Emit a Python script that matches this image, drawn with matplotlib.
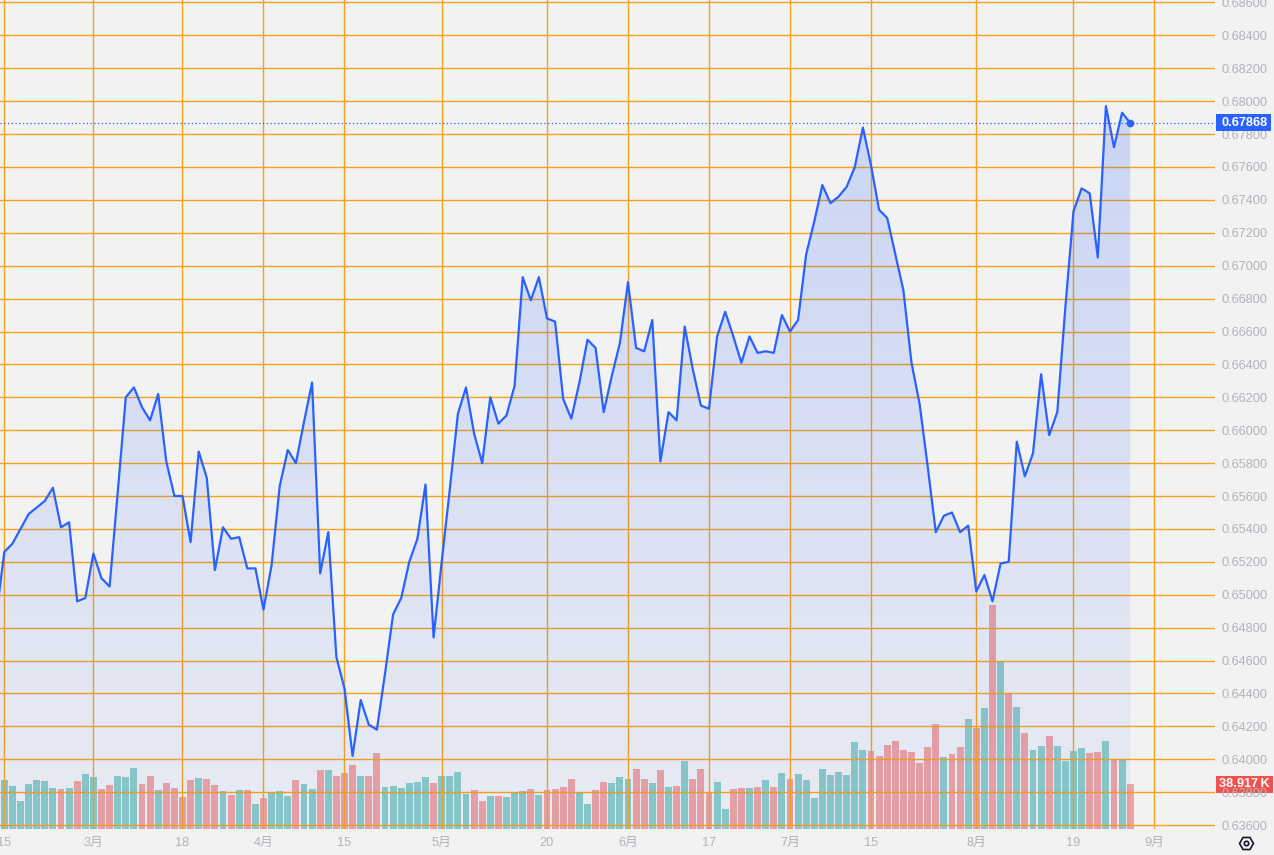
import numpy as np
import pandas as pd
import matplotlib
matplotlib.use('Agg')
import matplotlib.pyplot as plt
import matplotlib.transforms as mtransforms
from matplotlib.patches import Polygon, Rectangle
from matplotlib.lines import Line2D
from matplotlib.colors import to_rgb

plt.rcParams['font.family'] = ['Liberation Sans', 'Noto Sans CJK JP', 'DejaVu Sans']

#######################################
# Data (daily, weekdays 2024-02-14 .. 2024-08-28)
#######################################
days = pd.bdate_range('2024-02-14', '2024-08-28')

close = [
    0.6487,
    0.6526, 0.6531, 0.6540, 0.6549, 0.6553, 0.6557, 0.6565, 0.6541, 0.6544, 0.6496,
    0.6498, 0.6525, 0.6510, 0.6505, 0.6562, 0.6620, 0.6626, 0.6614, 0.6606, 0.6622,
    0.6581, 0.6560, 0.6560, 0.6532, 0.6587, 0.6571, 0.6515, 0.6541, 0.6534, 0.6535,
    0.6516, 0.6516, 0.6491, 0.6518, 0.6566, 0.6588, 0.6580, 0.6605, 0.6629, 0.6513,
    0.6538, 0.6462, 0.6443, 0.6402, 0.6436, 0.6421, 0.6418, 0.6452, 0.6488, 0.6498,
    0.6520, 0.6534, 0.6567, 0.6474, 0.6520, 0.6564, 0.6610, 0.6626, 0.6598, 0.6580,
    0.6620, 0.6604, 0.6609, 0.6627, 0.6693, 0.6679, 0.6693, 0.6668, 0.6666, 0.6619,
    0.6607, 0.6629, 0.6655, 0.6650, 0.6611, 0.6633, 0.6653, 0.6690, 0.6650, 0.6648,
    0.6667, 0.6581, 0.6611, 0.6606, 0.6663, 0.6637, 0.6615, 0.6613, 0.6657, 0.6672,
    0.6657, 0.6641, 0.6657, 0.6647, 0.6648, 0.6647, 0.6670, 0.6660, 0.6667, 0.6707,
    0.6727, 0.6749, 0.6738, 0.6742, 0.6748, 0.6760, 0.6784, 0.6761, 0.6734, 0.6729,
    0.6707, 0.6685, 0.6641, 0.6616, 0.6578, 0.6538, 0.6548, 0.6550, 0.6538, 0.6542,
    0.6502, 0.6512, 0.6496, 0.6519, 0.6520, 0.6593, 0.6572, 0.6586, 0.6634, 0.6597,
    0.6611, 0.6675, 0.6733, 0.6747, 0.6744, 0.6705, 0.6797, 0.6772, 0.6793, 0.67868,
]

# volume in K, from 2024-02-15
volume = [
    42.4, 37.2, 24.1, 38.9, 42.4, 41.5, 35.4, 34.6, 35.4, 41.5,
    47.6, 45.0, 34.6, 38.0, 45.9, 45.0, 52.9, 38.9, 45.9, 33.7,
    39.8, 35.4, 27.6, 42.4, 44.1, 43.3, 38.0, 32.8, 29.3, 33.7,
    33.7, 21.5, 26.7, 31.9, 32.8, 28.5, 42.4, 38.9, 34.6, 51.1,
    51.1, 45.9, 48.5, 55.5, 45.9, 45.9, 65.9, 36.3, 37.2, 35.4,
    39.8, 40.7, 45.0, 39.8, 45.9, 45.9, 49.4, 30.2, 33.7, 24.1,
    28.5, 28.5, 27.6, 31.9, 32.8, 34.6, 29.3, 33.7, 34.6, 36.3,
    43.3, 31.9, 21.5, 33.7, 40.7, 39.8, 45.0, 43.3, 52.0, 43.3,
    39.8, 51.1, 36.3, 37.2, 59.0, 43.3, 52.0, 31.9, 40.7, 17.1,
    34.6, 35.4, 35.4, 36.3, 42.4, 36.3, 48.5, 43.3, 47.6, 42.4,
    26.7, 52.0, 46.8, 49.4, 46.8, 75.5, 68.5, 67.7, 63.3, 72.9,
    76.4, 68.5, 66.8, 57.2, 71.1, 91.2, 62.4, 65.0, 71.1, 95.5,
    87.7, 105.1, 194.9, 146.1, 117.9, 106.0, 83.3, 68.5, 72.0, 80.7,
    72.0, 59.0, 67.7, 70.3, 65.9, 66.8, 76.4, 60.1, 60.1, 38.917,
]
# U = up day, D = down day
direction = ('UUUUUUUDUDUUDDUUUDDUDDDDUDDUDUDUDUUUDUUDUDDDUDDU'
             'UUUUUDUUUUDDUDUUUDUDDDDUUDDUUUDDUDUDUDDDUUDDUDU'
             'DUDUUUUUUUUUDDDDDDDDDUDDUDUDUDUDUUDUUUUDDUDUD')

tick_dates = ['2024-02-15', '2024-03-01', '2024-03-18', '2024-04-01', '2024-04-15',
              '2024-05-01', '2024-05-20', '2024-06-03', '2024-06-17', '2024-07-01',
              '2024-07-15', '2024-08-01', '2024-08-19', '2024-09-02']
tick_labels = ['15', '3月', '18', '4月', '15', '5月', '20', '6月', '17', '7月',
               '15', '8月', '19', '9月']
price_ticks = np.arange(0.636, 0.6861, 0.002)

#######################################
# Figure
#######################################
W, H = 1274, 855
BG = '#f2f2f2'
ORANGE = '#f7a11a'
BLUE = '#2962ff'
GREY = '#b0b3bb'
FS = 9.2

fig = plt.figure(figsize=(W / 100, H / 100), dpi=100, facecolor=BG)
ax = fig.add_axes([0, 26 / H, 1215 / W, 829 / H])
vax = ax.twinx()
ax.set_zorder(vax.get_zorder() + 1)
ax.patch.set_visible(False)

# positions: trading-day index, 2024-02-15 = 0
all_days = pd.bdate_range('2024-02-14', '2024-09-13')
x = np.arange(len(days)) - 1
xv = x[1:]
tick_pos = [all_days.get_loc(pd.Timestamp(d)) - 1 for d in tick_dates]

xlo, xhi = -0.53, 149.47
ylo, yhi = 0.63576, 0.68615
vmax = 721.8

# volume bars
cols = ['#8ccbc4' if d == 'U' else '#efa2a1' for d in direction]
vax.bar(xv, volume, width=0.86, color=cols, zorder=2)
vax.set_ylim(0, vmax)
vax.set_yticks([])
for s in vax.spines.values():
    s.set_visible(False)

# gradient area under line
grad = np.zeros((256, 1, 4))
grad[..., :3] = to_rgb(BLUE)
grad[:, 0, 3] = np.linspace(0.22, 0.05, 256)
im = ax.imshow(grad, extent=[xlo, xhi, ylo, yhi], aspect='auto', origin='upper', zorder=1)
verts = [(x[0], ylo)] + list(zip(x, close)) + [(x[-1], ylo)]
clip = Polygon(verts, closed=True, fc='none', ec='none', transform=ax.transData)
ax.add_patch(clip)
im.set_clip_path(clip)

ax.plot(x, close, color=BLUE, lw=1.6, zorder=3)
ax.plot(x[-1], close[-1], 'o', color=BLUE, ms=4.5, zorder=4)
ax.axhline(close[-1], color=BLUE, lw=0.9, ls=(0, (1, 2)), zorder=3)

ax.set_xlim(xlo, xhi)
ax.set_ylim(ylo, yhi)
ax.set_xticks(tick_pos)
ax.set_xticklabels(tick_labels)
ax.set_yticks(price_ticks)
ax.set_yticklabels(['%.5f' % v for v in price_ticks])
ax.yaxis.tick_right()
ax.set_axisbelow(True)
ax.grid(True, color=ORANGE, lw=1.0)
ax.tick_params(axis='y', length=0, pad=5.0, labelsize=FS, labelcolor=GREY)
ax.tick_params(axis='x', length=0, pad=5.5, labelsize=FS, labelcolor=GREY)
for s in ax.spines.values():
    s.set_visible(False)

# last price / last volume tags
px_price = (yhi - ylo) / 829
px_vol = vmax / 829
tp = mtransforms.blended_transform_factory(ax.transAxes, ax.transData)
ax.add_patch(Rectangle((1216 / 1215, close[-1] - 8.5 * px_price), 55 / 1215, 17 * px_price,
                       transform=tp, fc=BLUE, ec='none', clip_on=False, zorder=10))
ax.text(1221 / 1215, close[-1], '%.5f' % close[-1], transform=tp, ha='left', va='center',
        color='white', fontsize=FS, fontweight='bold', clip_on=False, zorder=11)

tv = mtransforms.blended_transform_factory(vax.transAxes, vax.transData)
vax.add_patch(Rectangle((1216 / 1215, volume[-1] - 8.5 * px_vol), 57 / 1215, 17 * px_vol,
                        transform=tv, fc='#ef5350', ec='none', clip_on=False, zorder=10))
vax.text(1219 / 1215, volume[-1], '%.3f\u2009K' % volume[-1], transform=tv, ha='left',
         va='center', color='white', fontsize=FS, fontweight='bold', clip_on=False, zorder=11)

# settings icon, bottom right
fig.add_artist(Line2D([1246 / W], [1 - 843 / H], marker='H', ms=10, mfc='none',
                      mec='#131722', mew=1.2, transform=fig.transFigure))
fig.add_artist(Line2D([1246 / W], [1 - 843 / H], marker='o', ms=3.2, mfc='none',
                      mec='#131722', mew=1.2, transform=fig.transFigure))

fig.savefig('out.png', dpi=100, facecolor=BG)
